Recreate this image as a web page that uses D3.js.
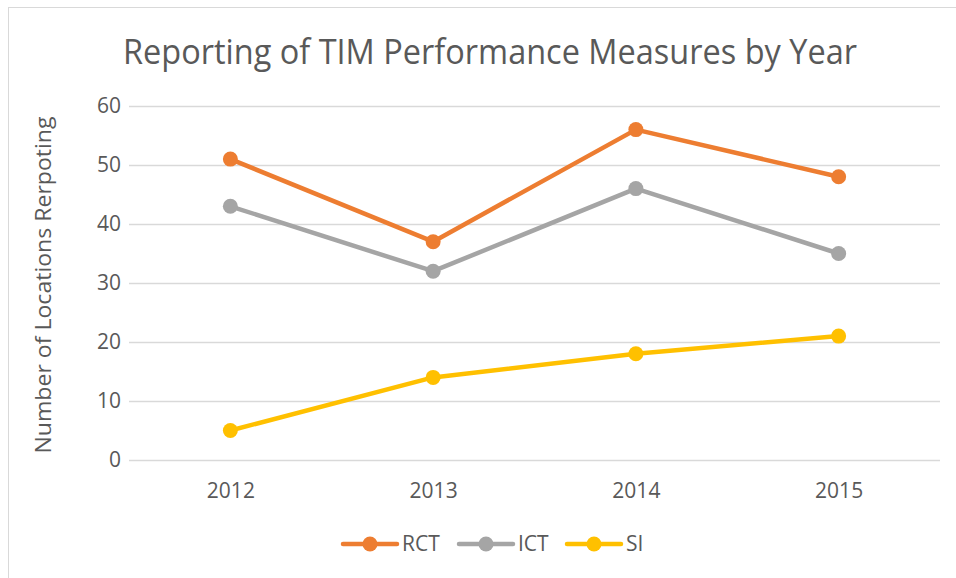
<!DOCTYPE html>
<html lang="en">
<head>
<meta charset="UTF-8">
<title>Reporting of TIM Performance Measures by Year</title>
<script src="https://d3js.org/d3.v7.min.js"></script>
<style>
    body { margin: 0; background: #fff; }
    text { font-family: "Open Sans", "Noto Sans", sans-serif; fill: #595959; }
</style>
</head>
<body>
<script>
    // data
    var years = ["2012", "2013", "2014", "2015"];
    var rct = [51, 37, 56, 48];
    var ict = [43, 32, 46, 35];
    var si = [5, 14, 18, 21];
    var yTicks = [0, 10, 20, 30, 40, 50, 60];

    var series = [
        {name: "RCT", values: rct, color: "#ED7D31"},
        {name: "ICT", values: ict, color: "#A5A5A5"},
        {name: "SI", values: si, color: "#FFC000"}
    ];

    var width = 956,
        height = 578,
        plotLeft = 129,
        plotRight = 940,
        plotTop = 106,
        plotBottom = 460;

    var svg = d3.select("body").append("svg")
        .attr("width", width)
        .attr("height", height);

    // chart area border (only left and top edges visible in the frame)
    svg.append("rect")
        .attr("x", 8.5).attr("y", 7.5)
        .attr("width", 1000).attr("height", 1000)
        .attr("fill", "none")
        .attr("stroke", "#d9d9d9");

    svg.append("text")
        .attr("x", 490).attr("y", 64)
        .attr("text-anchor", "middle")
        .attr("font-size", "35px")
        .attr("textLength", 734)
        .attr("lengthAdjust", "spacingAndGlyphs")
        .text("Reporting of TIM Performance Measures by Year");

    var x = d3.scalePoint()
        .domain(years)
        .range([plotLeft, plotRight])
        .padding(0.5);

    var y = d3.scaleLinear()
        .domain([0, 60])
        .range([plotBottom, plotTop]);

    // gridlines + y labels
    var yAxis = d3.axisLeft(y)
        .tickValues(yTicks)
        .tickSize(-(plotRight - plotLeft))
        .tickPadding(8);

    var gy = svg.append("g")
        .attr("transform", "translate(" + plotLeft + ",0)")
        .call(yAxis);
    gy.select(".domain").remove();
    gy.selectAll(".tick line").attr("stroke", "#d9d9d9").attr("stroke-width", 1.5);
    gy.selectAll(".tick text")
        .attr("font-size", "21px")
        .attr("font-family", null)
        .attr("fill", "#595959");

    var xAxis = d3.axisBottom(x).tickSize(0).tickPadding(23);
    var gx = svg.append("g")
        .attr("transform", "translate(0," + plotBottom + ")")
        .call(xAxis);
    gx.select(".domain").remove();
    gx.selectAll(".tick text")
        .attr("font-size", "21px")
        .attr("font-family", null)
        .attr("fill", "#595959");

    svg.append("text")
        .attr("transform", "translate(51," + ((plotTop + plotBottom) / 2 + 2) + ") rotate(-90)")
        .attr("text-anchor", "middle")
        .attr("font-size", "22px")
        .attr("textLength", 337)
        .attr("lengthAdjust", "spacingAndGlyphs")
        .text("Number of Locations Rerpoting");

    var line = d3.line()
        .x(function (d, i) { return x(years[i]); })
        .y(function (d) { return y(d); });

    var g = svg.append("g").selectAll("g")
        .data(series)
        .enter()
        .append("g");

    g.append("path")
        .attr("d", function (d) { return line(d.values); })
        .attr("fill", "none")
        .attr("stroke", function (d) { return d.color; })
        .attr("stroke-width", 4.5)
        .attr("stroke-linejoin", "round")
        .attr("stroke-linecap", "round");

    g.selectAll("circle")
        .data(function (d) { return d.values.map(function (v) { return {v: v, color: d.color}; }); })
        .enter()
        .append("circle")
        .attr("cx", function (d, i) { return x(years[i]); })
        .attr("cy", function (d) { return y(d.v); })
        .attr("r", 7.5)
        .attr("fill", function (d) { return d.color; });

    // legend
    var legendX = [342, 458, 566];
    var legend = svg.append("g").selectAll("g")
        .data(series)
        .enter()
        .append("g")
        .attr("transform", function (d, i) { return "translate(" + legendX[i] + ",544)"; });

    legend.append("line")
        .attr("x1", 1).attr("x2", 55)
        .attr("stroke", function (d) { return d.color; })
        .attr("stroke-width", 4.5)
        .attr("stroke-linecap", "round");
    legend.append("circle")
        .attr("cx", 28).attr("r", 7.5)
        .attr("fill", function (d) { return d.color; });
    legend.append("text")
        .attr("x", 60).attr("dy", "0.35em")
        .attr("font-size", "21px")
        .text(function (d) { return d.name; });
</script>
</body>
</html>
